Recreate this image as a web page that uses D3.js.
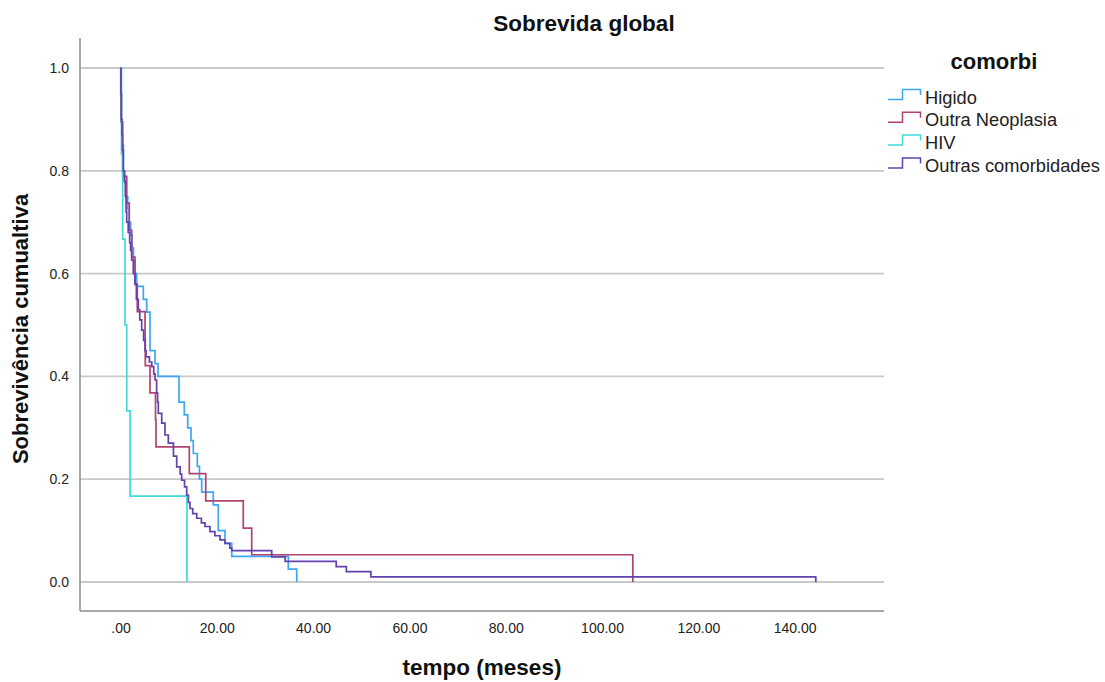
<!DOCTYPE html>
<html>
<head>
<meta charset="utf-8">
<script src="https://cdn.jsdelivr.net/npm/d3@7"></script>
<style>
  html, body { margin: 0; padding: 0; background: #fff; }
  svg { display: block; font-family: "Liberation Sans", Arial, sans-serif; }
</style>
</head>
<body>
<svg id="chart" width="1105" height="682"></svg>
<script>
// ---- data ----
const seriesNames = ["Higido", "Outra Neoplasia", "HIV", "Outras comorbidades"];
const seriesColors = ["#3fa6f5", "#b0446e", "#45d8d8", "#6242b0"];

const higidoTime = [0, 0.1, 0.3, 0.6, 0.9, 1.2, 1.5, 1.8, 2.1, 2.4, 2.7, 3.0, 3.36, 4.74, 5.44, 6.13, 7.17, 7.79, 12.15, 13.25, 13.96, 14.64, 15.12, 15.95, 16.4, 16.86, 19.27, 20.31, 21.7, 23.1, 34.85, 36.6];
const higidoSurv = [1, 0.9, 0.85, 0.8, 0.775, 0.75, 0.725, 0.7, 0.675, 0.65, 0.625, 0.6, 0.575, 0.55, 0.525, 0.45, 0.425, 0.4, 0.35, 0.325, 0.3, 0.275, 0.25, 0.225, 0.2, 0.175, 0.15, 0.1, 0.075, 0.05, 0.025, 0];

const neoplasiaTime = [0, 0.05, 0.1, 0.46, 1.29, 1.83, 2.33, 3.01, 3.49, 5.1, 5.15, 6.13, 7.27, 7.37, 14.29, 17.7, 25.5, 27.25, 106.4];
const neoplasiaSurv = [1, 0.947, 0.895, 0.789, 0.737, 0.684, 0.632, 0.579, 0.526, 0.474, 0.421, 0.368, 0.316, 0.263, 0.211, 0.158, 0.105, 0.053, 0];

const hivTime = [0, 0.2, 0.45, 0.93, 1.3, 2.0, 13.8];
const hivSurv = [1, 0.833, 0.667, 0.5, 0.333, 0.167, 0];

const outrasTime = [0, 0.1, 0.2, 0.3, 0.4, 0.58, 0.8, 1.0, 1.15, 1.29, 1.6, 1.9, 2.1, 2.33, 2.66, 3.01, 3.3, 3.7, 4.0, 4.4, 4.8, 5.1, 5.3, 6.0, 6.5, 6.9, 7.17, 7.5, 7.7, 7.85, 8.56, 9.24, 9.93, 11.0, 11.67, 12.4, 12.71, 13.3, 13.75, 14.1, 14.43, 15.0, 15.83, 16.8, 17.55, 18.59, 19.6, 20.66, 21.7, 22.7, 23.1, 31.4, 34.2, 44.8, 46.9, 52.0, 144.4];
const outrasSurv = [1, 0.95, 0.9, 0.87, 0.84, 0.8, 0.78, 0.75, 0.72, 0.7, 0.68, 0.66, 0.645, 0.626, 0.6, 0.58, 0.55, 0.53, 0.51, 0.49, 0.47, 0.45, 0.438, 0.428, 0.419, 0.405, 0.393, 0.368, 0.35, 0.328, 0.309, 0.286, 0.27, 0.245, 0.224, 0.21, 0.198, 0.185, 0.169, 0.155, 0.143, 0.133, 0.124, 0.115, 0.108, 0.098, 0.09, 0.082, 0.075, 0.066, 0.061, 0.049, 0.04, 0.03, 0.02, 0.01, 0];

const xTicks = [0, 20, 40, 60, 80, 100, 120, 140];
const yTicks = [0, 0.2, 0.4, 0.6, 0.8, 1.0];

const chartTitle = "Sobrevida global";
const xTitle = "tempo (meses)";
const yTitle = "Sobrevivência cumualtiva";
const legendTitle = "comorbi";

// ---- drawing ----
const svg = d3.select("#chart");
const plotLeft = 80, plotRight = 884, plotTop = 38, plotBottom = 611;

const x = d3.scaleLinear().domain([0, 140]).range([120.5, 794.6]);
const y = d3.scaleLinear().domain([0, 1]).range([582, 68]);

// gridlines
svg.append("g").selectAll("line").data(yTicks).join("line")
  .attr("x1", plotLeft).attr("x2", plotRight)
  .attr("y1", d => y(d)).attr("y2", d => y(d))
  .attr("stroke", "#c9c9c9").attr("stroke-width", 1.8);

// axis lines
svg.append("line").attr("x1", plotLeft).attr("x2", plotLeft)
  .attr("y1", plotTop).attr("y2", plotBottom)
  .attr("stroke", "#8c8c8c").attr("stroke-width", 1.5);
svg.append("line").attr("x1", plotLeft).attr("x2", plotRight)
  .attr("y1", plotBottom).attr("y2", plotBottom)
  .attr("stroke", "#8c8c8c").attr("stroke-width", 1.5);

// x axis labels
const xAxis = d3.axisBottom(x).tickValues(xTicks).tickSize(0).tickPadding(12)
  .tickFormat(d => d === 0 ? ".00" : d3.format(".2f")(d));
const gx = svg.append("g").attr("transform", `translate(0,${plotBottom})`).call(xAxis);
gx.select(".domain").remove();
gx.selectAll("text").attr("font-size", 14).attr("fill", "#222")
  .attr("font-family", "'Liberation Sans Narrow', 'Liberation Sans', Arial, sans-serif");

// y axis labels
const yAxis = d3.axisLeft(y).tickValues(yTicks).tickSize(0).tickPadding(11)
  .tickFormat(d3.format(".1f"));
const gy = svg.append("g").attr("transform", `translate(${plotLeft},0)`).call(yAxis);
gy.select(".domain").remove();
gy.selectAll("text").attr("font-size", 14).attr("fill", "#222")
  .attr("font-family", "'Liberation Sans Narrow', 'Liberation Sans', Arial, sans-serif");

// curves
const series = [
  { name: seriesNames[0], color: seriesColors[0], t: higidoTime, s: higidoSurv },
  { name: seriesNames[1], color: seriesColors[1], t: neoplasiaTime, s: neoplasiaSurv },
  { name: seriesNames[2], color: seriesColors[2], t: hivTime, s: hivSurv },
  { name: seriesNames[3], color: seriesColors[3], t: outrasTime, s: outrasSurv }
];
const line = d3.line().x(d => x(d[0])).y(d => y(d[1])).curve(d3.curveStepAfter);
svg.append("g").selectAll("path").data(series).join("path")
  .attr("d", d => line(d.t.map((t, i) => [t, d.s[i]])))
  .attr("fill", "none")
  .attr("stroke", d => d.color)
  .attr("stroke-width", 1.7)
  .attr("stroke-linejoin", "miter");

// titles
svg.append("text").attr("x", 584).attr("y", 31).attr("text-anchor", "middle")
  .attr("font-size", 22.5).attr("font-weight", "bold").attr("fill", "#111").text(chartTitle);
svg.append("text").attr("x", 482).attr("y", 675).attr("text-anchor", "middle")
  .attr("font-size", 22.5).attr("font-weight", "bold").attr("fill", "#111").text(xTitle);
svg.append("text").attr("transform", "translate(28,329) rotate(-90)").attr("text-anchor", "middle")
  .attr("font-size", 22).attr("font-weight", "bold").attr("fill", "#111").text(yTitle);

// legend
svg.append("text").attr("x", 994).attr("y", 69).attr("text-anchor", "middle")
  .attr("font-size", 22).attr("font-weight", "bold").attr("fill", "#111").text(legendTitle);
const lg = svg.append("g").selectAll("g").data(series).join("g")
  .attr("transform", (d, i) => `translate(0,${97 + i * 22.8})`);
lg.append("path")
  .attr("d", "M888,2.5 H902.5 V-7.5 H920.5 V-2")
  .attr("fill", "none").attr("stroke", d => d.color).attr("stroke-width", 1.5);
lg.append("text").attr("x", 925).attr("y", 6.5)
  .attr("font-size", 18.3).attr("fill", "#222").text(d => d.name);
</script>
</body>
</html>
